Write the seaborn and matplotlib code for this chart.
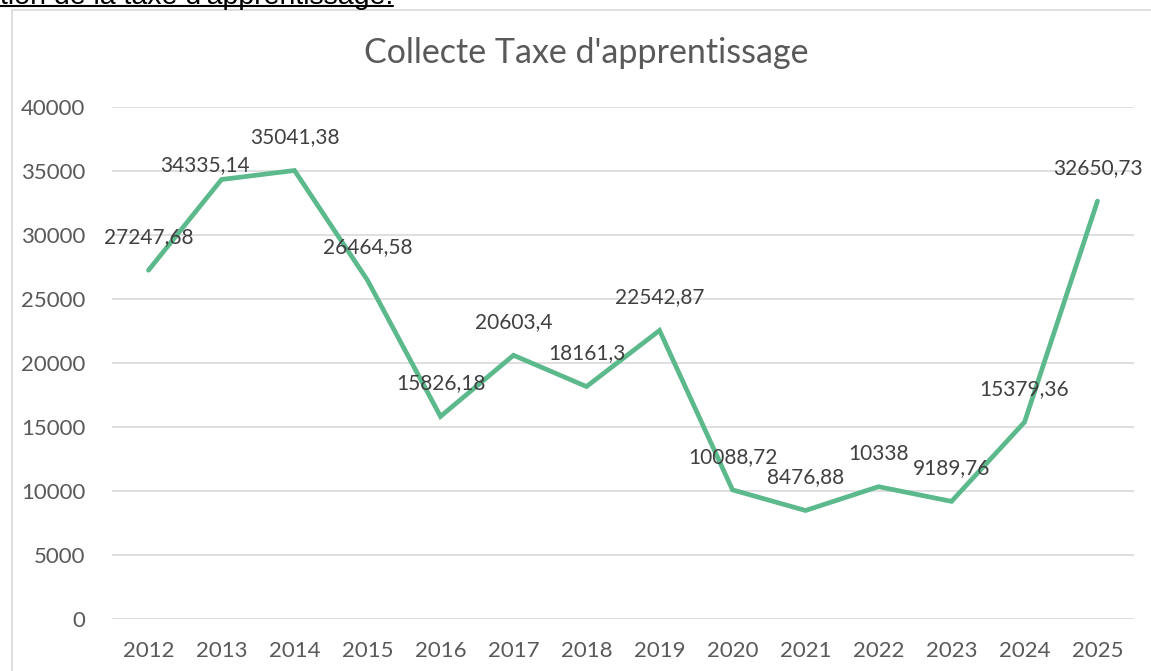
import numpy as np
import pandas as pd
import matplotlib
matplotlib.use("Agg")
import matplotlib.pyplot as plt
from matplotlib.patches import Rectangle
from matplotlib.lines import Line2D
import seaborn as sns

years = ["2012", "2013", "2014", "2015", "2016", "2017", "2018", "2019",
         "2020", "2021", "2022", "2023", "2024", "2025"]
values = [27247.68, 34335.14, 35041.38, 26464.58, 15826.18, 20603.4, 18161.3,
          22542.87, 10088.72, 8476.88, 10338, 9189.76, 15379.36, 32650.73]
yticks = [0, 5000, 10000, 15000, 20000, 25000, 30000, 35000, 40000]
title = "Collecte Taxe d'apprentissage"
header = "tion de la taxe d'apprentissage."

sns.set_theme(style="white")
plt.rcParams['font.family'] = ['Lato', 'DejaVu Sans']

W, H = 1151, 671
fig = plt.figure(figsize=(W / 100, H / 100), dpi=100)

# chart border
fig.patches.append(Rectangle((11.5 / W, -0.1), 2.0, (1 - 9.5 / H) + 0.1,
                             transform=fig.transFigure, fill=False,
                             edgecolor="#d9d9d9", linewidth=1.2))

# clipped header text above chart
fig.text(393 / W, 1 - 4.5 / H, header, ha="right", va="baseline",
         fontsize=20.5, color="black", family=["Liberation Sans", "DejaVu Sans"])
fig.lines.append(Line2D([0, 393 / W], [1 - 6 / H, 1 - 6 / H],
                        transform=fig.transFigure, color="black", linewidth=1.5))

ax = fig.add_axes([112 / W, 52 / H, 1022 / W, 512 / H])
df = pd.DataFrame({"year": years, "value": values})
sns.lineplot(data=df, x="year", y="value", ax=ax, color="#5BB98C",
             linewidth=3.4, sort=False, solid_joinstyle="miter")

ax.set_xlim(-0.5, len(years) - 0.5)
ax.set_ylim(0, 40000)
ax.set_yticks(yticks)
ax.set_yticklabels([str(t) for t in yticks])
ax.grid(axis="y", color="#d9d9d9", linewidth=1.2)
ax.set_axisbelow(True)
for s in ax.spines.values():
    s.set_visible(False)
ax.tick_params(axis="both", length=0, labelsize=16, colors="#595959")
ax.tick_params(axis="y", pad=19)
ax.tick_params(axis="x", pad=16)
ax.set_xlabel("")
ax.set_ylabel("")

fig.text(586.5 / W, 1 - 53 / H, title, ha="center", va="center",
         fontsize=24.5, color="#595959")


def fmt(v):
    s = ("%.2f" % v).rstrip("0").rstrip(".")
    return s.replace(".", ",")


for i, v in enumerate(values):
    off = (0, 33)
    if i == 1:
        off = (-17, 14)
    ax.annotate(fmt(v), xy=(i, v), xytext=off, textcoords="offset pixels",
                ha="center", va="center", fontsize=15, color="#404040")

fig.savefig("out.png", dpi=100)
